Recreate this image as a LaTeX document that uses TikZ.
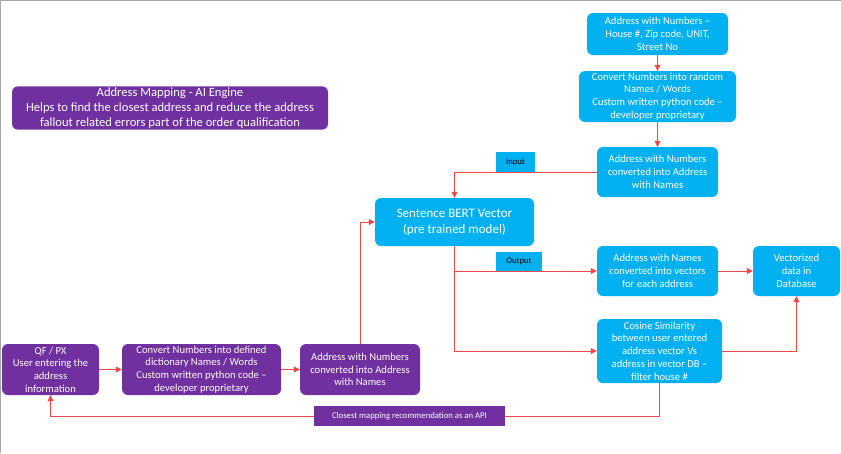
\documentclass[tikz,border=0pt]{standalone}
\usepackage{fontspec}
\setmainfont{Carlito}
\usetikzlibrary{arrows.meta,positioning}
\definecolor{cyanbox}{HTML}{00B0F0}
\definecolor{purplebox}{HTML}{7030A0}
\definecolor{linkred}{HTML}{F04848}
\begin{document}
\begin{tikzpicture}[x=1pt,y=-1pt,>={Triangle[length=6pt,width=6pt]},
  bx/.style={rounded corners=6pt,align=center,inner sep=1pt,text=white,
    font=\fontsize{10.6}{12.7}\selectfont},
  cy/.style={bx,fill=cyanbox},
  pu/.style={bx,fill=purplebox},
  tag/.style={inner sep=1pt,align=center,font=\fontsize{8.7}{10}\selectfont},
  ln/.style={draw=linkred,line width=0.8pt},
  ar/.style={ln,->,color=linkred}]
  \useasboundingbox (0,0) rectangle (841,453);
  \draw[gray!70,line width=1.2pt] (0.6,453) -- (0.6,0.6) -- (841,0.6);
  % title
  \node[pu,minimum width=316pt,minimum height=42pt,font=\fontsize{12.6}{15.3}\selectfont] (title) at (170,108)
    {Address Mapping - AI Engine\\Helps to find the closest address and reduce the address\\fallout related errors part of the order qualification};
  % right column
  \node[cy,minimum width=141pt,minimum height=42pt] (a1) at (657.5,34)
    {Address with Numbers --\\House \#, Zip code, UNIT,\\Street No};
  \node[cy,minimum width=157pt,minimum height=51pt] (a2) at (657.5,96.5)
    {Convert Numbers into random\\Names / Words\\Custom written python code --\\developer proprietary};
  \node[cy,minimum width=121pt,minimum height=50pt] (a3) at (657.5,172)
    {Address with Numbers\\converted into Address\\with Names};
  \node[cy,minimum width=159pt,minimum height=48pt,font=\fontsize{13}{16}\selectfont] (bert) at (454.5,222)
    {Sentence BERT Vector\\(pre trained model)};
  \node[cy,minimum width=121pt,minimum height=50pt] (b1) at (657.5,271)
    {Address with Names\\converted into vectors\\for each address};
  \node[cy,minimum width=87pt,minimum height=50pt] (db) at (796.5,271)
    {Vectorized\\data in\\Database};
  \node[cy,minimum width=125pt,minimum height=64pt] (cos) at (659.5,351)
    {Cosine Similarity\\between user entered\\address vector Vs\\address in vector DB --\\filter house \#};
  % bottom row
  \node[pu,minimum width=97pt,minimum height=51pt] (p1) at (50.5,369.5)
    {QF / PX\\User entering the\\address\\information};
  \node[pu,minimum width=159pt,minimum height=51pt] (p2) at (201.5,369.5)
    {Convert Numbers into defined\\dictionary Names / Words\\Custom written python code --\\developer proprietary};
  \node[pu,minimum width=120pt,minimum height=51pt] (p3) at (360,369.5)
    {Address with Numbers\\converted into Address\\with Names};
  % connectors
  \draw[ar] (a1) -- (a2);
  \draw[ar] (a2) -- (a3);
  \draw[ar] (a3.west) -| (bert.north);
  \draw[ar] (p3.north) |- (bert.west);
  \draw[ar] (p1) -- (p2);
  \draw[ar] (p2) -- (p3);
  \draw[ar] (bert.south) |- (b1.west);
  \draw[ar] (bert.south) |- (cos.west);
  \draw[ar] (b1) -- (db);
  \draw[ar] (cos.east) -| (db.south);
  \node[tag,fill=cyanbox,minimum width=39pt,minimum height=20pt] (input) at (515.5,162) {Input};
  \node[tag,fill=cyanbox,minimum width=46pt,minimum height=19pt] (output) at (519,261.5) {Output};
  \node[tag,fill=purplebox,text=white,minimum width=191pt,minimum height=20pt] (api) at (409.5,416)
    {Closest mapping recommendation as an API};
  \draw[ln] (cos.south) |- (api.east);
  \draw[ar] (api.west) -| (p1.south);
\end{tikzpicture}
\end{document}
